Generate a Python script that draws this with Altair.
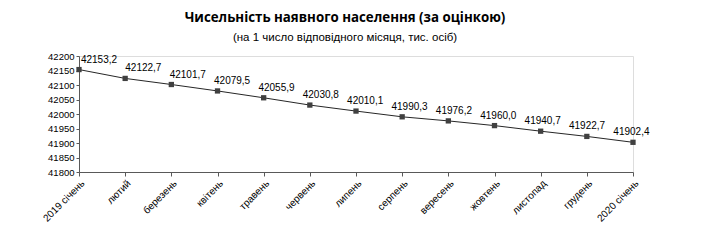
import altair as alt
import pandas as pd

months = ["2019 січень", "лютий", "березень", "квітень", "травень", "червень",
          "липень", "серпень", "вересень", "жовтень", "листопад", "грудень", "2020 січень"]
population = [42153.2, 42122.7, 42101.7, 42079.5, 42055.9, 42030.8,
              42010.1, 41990.3, 41976.2, 41960.0, 41940.7, 41922.7, 41902.4]
y_ticks = [41800, 41850, 41900, 41950, 42000, 42050, 42100, 42150, 42200]

df = pd.DataFrame({"i": list(range(len(months))), "month": months, "v": population})

label_arr = "[" + ",".join("'" + m + "'" for m in months) + "]"

FONT = "Liberation Sans"
col = "#000000"

xscale = alt.Scale(domain=[0, 12], nice=False, zero=False)
xaxis = alt.Axis(values=list(range(13)), labelExpr=label_arr + "[datum.value]",
                 labelAngle=-45, labelAlign="right", labelBaseline="top",
                 labelFont=FONT, labelFontSize=10, labelColor=col, labelPadding=2,
                 labelOverlap=False,
                 domainColor="#595959", tickColor="#595959", tickSize=4,
                 grid=False, title=None)
yscale = alt.Scale(domain=[41800, 42200], nice=False, zero=False)
yaxis = alt.Axis(values=y_ticks, labelFont=FONT, labelFontSize=9.5, labelColor=col,
                 labelPadding=2, labelOverlap=False,
                 domainColor="#595959", tickColor="#595959", tickSize=3,
                 grid=False, title=None, format="d")

x = alt.X("i:Q", scale=xscale, axis=xaxis)
y = alt.Y("v:Q", scale=yscale, axis=yaxis)

base = alt.Chart(df)
line = base.mark_line(color="#262626", strokeWidth=1).encode(x=x, y=y)
pts = base.mark_point(shape="square", filled=True, size=28, color="#404040", opacity=1).encode(x=x, y=y)
labels = base.transform_calculate(
    lbl="replace(format(datum.v, '.1f'), '.', ',')",
    xi="datum.i + (20 - 1.8 * datum.i) / 46.2"
).mark_text(align="center", baseline="bottom", dy=-5, font=FONT, fontSize=10, color=col).encode(
    x=alt.X("xi:Q", scale=xscale, axis=xaxis), y=y, text="lbl:N")

chart = (line + pts + labels).properties(
    width=554, height=116,
    title=alt.TitleParams(
        text="Чисельність наявного населення (за оцінкою)",
        subtitle="(на 1 число відповідного місяця, тис. осіб)",
        font="Open Sans", fontSize=13.3, fontWeight="bold", color=col,
        subtitleFont="Liberation Sans", subtitleFontSize=11.5, subtitleColor=col,
        anchor="middle", dx=-11, offset=8, subtitlePadding=7
    ),
    autosize=alt.AutoSizeParams(type="none"),
    padding={"left": 79, "top": 56, "right": 69, "bottom": 73}
).configure_view(stroke=None).configure(background="white")

chart.save("out.html", embed_options={"renderer": "svg", "actions": False})
